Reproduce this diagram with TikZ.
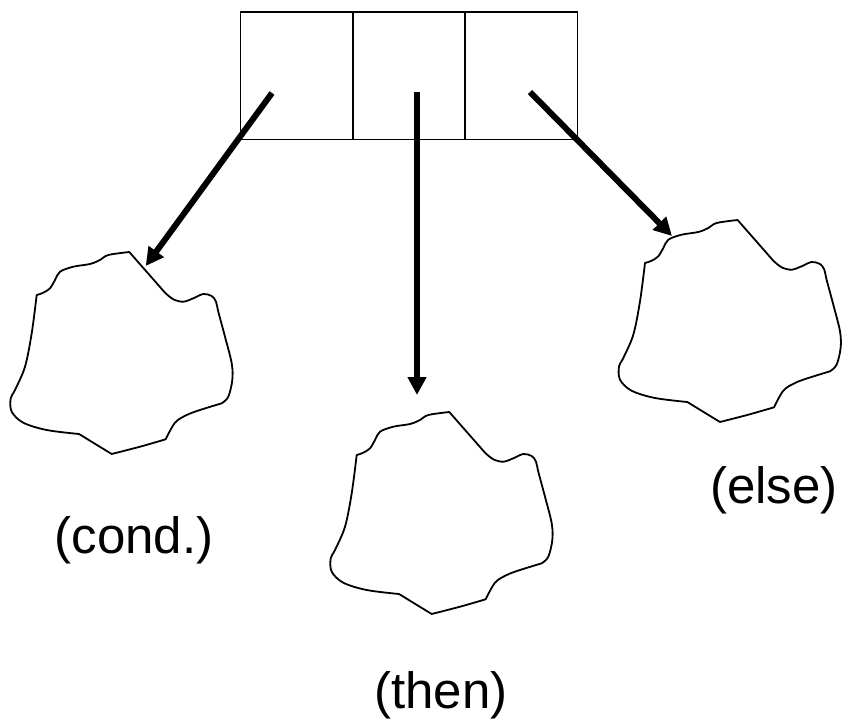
\documentclass[tikz,border=0pt]{standalone}
\usepackage{fontspec}
\setmainfont{Liberation Sans}
\usetikzlibrary{arrows.meta}

\tikzset{
  cell/.style={draw, line width=1.5pt, minimum width=112.2pt, minimum height=127.3pt,
               inner sep=0pt, outer sep=0pt},
  ptr/.style={line width=6pt, -{Triangle[length=18pt,width=18pt]}},
  cloud outline/.style={line width=1.8pt, line join=round},
  caption/.style={font=\fontsize{51}{60}\selectfont, inner sep=0pt},
  % irregular region outline, origin at its top corner
  blob/.pic={
    \draw[cloud outline]
      (0,0) -- (35.7,40.7)
      -- plot[smooth, tension=0.55] coordinates {(35.7,40.7) (44,47.3) (54,49.7) (64,46.3) (74,42)
            (82.4,44) (86.7,49.7) (89,59.7) (95.7,84.7) (102.4,111.3) (103,128) (99,144.7) (92.4,151.3)}
      -- plot[smooth, tension=0.55] coordinates {(92.4,151.3) (70.7,158) (57.4,163) (45.7,170.7) (36.4,187.3)}
      -- plot[smooth, tension=0.4] coordinates {(36.4,187.3) (10.7,194.7) (-17.6,202)}
      -- (-50.3,182)
      -- plot[smooth, tension=0.55] coordinates {(-50.3,182) (-82.6,178) (-106,170.7) (-117.6,159.7)
            (-118.6,146.3) (-114.3,138) (-104.3,114.7) (-97.6,81.3) (-92.6,43)}
      -- plot[smooth, tension=0.55] coordinates {(-92.6,43) (-86,40.7) (-79.3,36.3) (-74.3,28)
            (-69.3,19.7) (-56,14.7) (-39.3,12) (-29.3,8) (-21,3) (0,0)}
      -- cycle;
  }
}

\begin{document}
\begin{tikzpicture}[x=1pt, y=-1pt]
  \useasboundingbox (0,0) rectangle (842,723);

  % three-field record
  \node[cell] (cond cell) at (296.8,75.7) {};
  \node[cell] (then cell) at (409.0,75.7) {};
  \node[cell] (else cell) at (521.2,75.7) {};

  % pointer origins inside the fields
  \coordinate (s1) at (272,93);
  \coordinate (s2) at (417,92);
  \coordinate (s3) at (530,92);

  % subtrees
  \pic at (129.3,252) {blob};
  \pic at (449.3,412) {blob};
  \pic at (737.6,220) {blob};

  % pointer targets
  \coordinate (t1) at (145.7,266);
  \coordinate (t2) at (417,395);
  \coordinate (t3) at (672,236);

  \draw[ptr] (s1) -- (t1);
  \draw[ptr] (s2) -- (t2);
  \draw[ptr] (s3) -- (t3);

  % captions
  \node[caption] (cond label) at (134,540) {(cond.)};
  \node[caption] (then label) at (441,695) {(then)};
  \node[caption] (else label) at (774,490) {(else)};
\end{tikzpicture}
\end{document}
